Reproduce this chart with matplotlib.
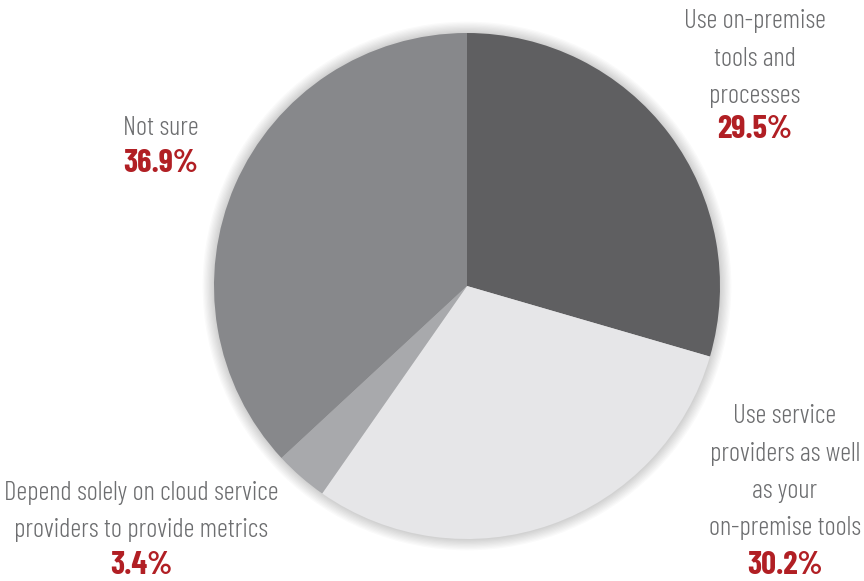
import matplotlib.pyplot as plt
from matplotlib.patches import Circle

# Survey shares (clockwise from 12 o'clock)
labels = [
    "Use on-premise\ntools and\nprocesses",
    "Use service\nproviders as well\nas your\non-premise tools",
    "Depend solely on cloud service\nproviders to provide metrics",
    "Not sure",
]
shares = [29.5, 30.2, 3.4, 36.9]
colors = ["#5f5f61", "#e6e6e8", "#a8a9ac", "#87888b"]

W, H = 864, 581
fig = plt.figure(figsize=(W / 100, H / 100), dpi=100)
fig.patch.set_facecolor("white")

# pie centre and radius in pixels; axes span 1.1 radii each way
cx, cy, r = 467, 286, 253
ax = fig.add_axes([(cx - r * 1.1) / W, (H - cy - r * 1.1) / H,
                   2.2 * r / W, 2.2 * r / H])
ax.axis("off")

# soft shadow under the pie edge
for i in range(10):
    ax.add_patch(Circle((0.0, 0.0), 1.0 + 0.005 * i, color="black",
                        alpha=0.02, lw=0, zorder=0))

ax.pie(shares, colors=colors, startangle=90, counterclock=False,
       radius=1.0, wedgeprops=dict(linewidth=0, zorder=2))
ax.set_xlim(-1.1, 1.1)
ax.set_ylim(-1.1, 1.1)

font = ["Barlow Condensed", "DejaVu Sans"]
grey = "#6d6e70"
red = "#b11f24"

# label block anchors: (x centre, y of first line, y of percentage) in px
anchors = [(755, 21, 130), (785, 416, 565), (141, 493, 565), (161, 128, 163)]
line_h = 37.5

for lab, val, (x, y0, yp) in zip(labels, shares, anchors):
    for k, line in enumerate(lab.split("\n")):
        fig.text(x / W, 1 - (y0 + k * line_h) / H, line, ha="center",
                 va="center", fontsize=19.3, fontweight=300, color=grey,
                 family=font)
    fig.text(x / W, 1 - yp / H, f"{val}%", ha="center", va="center",
             fontsize=23.5, fontweight="bold", color=red, family=font)

fig.savefig("out.png", dpi=100, facecolor="white")
